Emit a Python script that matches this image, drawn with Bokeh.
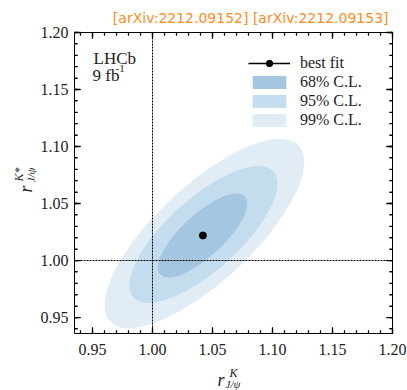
import math
from bokeh.plotting import figure
from bokeh.models import (Label, Legend, LegendItem, LinearAxis, Range1d,
                          FixedTicker, NumeralTickFormatter, CustomJSTickFormatter)
from bokeh.embed import file_html
from bokeh.resources import INLINE

# ---------------- data ----------------
cl_labels = ["99% C.L.", "95% C.L.", "68% C.L."]
cl_x = [1.0433, 1.0425, 1.0417]          # contour centres (x)
cl_y = [1.0237, 1.0228, 1.0219]          # contour centres (y)
cl_w = [0.215, 0.157, 0.096]             # major extent
cl_h = [0.084, 0.063, 0.037]             # minor extent
cl_angle = [43.0, 42.0, 42.7]            # degrees
cl_colors = ["#e1ecf5", "#c3dcee", "#a5c6e1"]
best_x = [1.042]
best_y = [1.022]
sm_x = 1.0
sm_y = 1.0
x_lim = (0.935, 1.20)
y_lim = (0.936, 1.20)
x_ticks = [0.95, 1.00, 1.05, 1.10, 1.15, 1.20]
y_ticks = [0.95, 1.00, 1.05, 1.10, 1.15, 1.20]
minor_step = 0.01

SERIF = "Liberation Serif"
W, H = 407, 390
# plot box in pixels (layout)
BOX_L, BOX_R, BOX_T, BOX_B = 74, 392, 32, 333
MAJ, MIN = 6, 3   # tick lengths in pixels
TW = 1.3          # tick thickness in pixels

# extend ranges so that the plot box sits at the wanted pixel position
xs = (x_lim[1] - x_lim[0]) / (BOX_R - BOX_L)
ys = (y_lim[1] - y_lim[0]) / (BOX_B - BOX_T)
x_range = Range1d(x_lim[0] - BOX_L * xs, x_lim[1] + (W - BOX_R) * xs)
y_range = Range1d(y_lim[0] - (H - BOX_B) * ys, y_lim[1] + BOX_T * ys)

p = figure(width=W, height=H, output_backend="svg", toolbar_location=None,
           x_range=x_range, y_range=y_range, min_border=0,
           x_axis_location=None, y_axis_location=None)
p.background_fill_color = "white"
p.border_fill_color = "white"
p.outline_line_color = None
p.xgrid.visible = False
p.ygrid.visible = False

# contours
for i in range(3):
    p.ellipse(x=[cl_x[i]], y=[cl_y[i]], width=[cl_w[i]], height=[cl_h[i]],
              angle=[cl_angle[i]], angle_units="deg",
              fill_color=cl_colors[i], line_color=None)
# proxy renderers for legend boxes (zero size)
proxies = []
for i in range(3):
    proxies.append(p.rect(x=[cl_x[i]], y=[cl_y[i]], width=0, height=0,
                          fill_color=cl_colors[i], line_color=None))

# SM reference lines, limited to the plot box
p.segment(x0=[sm_x, x_lim[0]], y0=[y_lim[0], sm_y], x1=[sm_x, x_lim[1]], y1=[y_lim[1], sm_y],
          line_color="black", line_width=1, line_dash="2 1")

# best fit
bf_line = p.line(x=best_x, y=best_y, line_color="black", line_width=1.5)
bf_dot = p.scatter(x=best_x, y=best_y, size=7, color="black")


def minor_list(lim):
    out = []
    k = 0
    v0 = math.ceil(lim[0] / minor_step - 1e-9) * minor_step
    while v0 + k * minor_step <= lim[1] + 1e-9:
        out.append(round(v0 + k * minor_step, 4))
        k += 1
    return out


x_minor = minor_list(x_lim)
y_minor = minor_list(y_lim)

# inward ticks on all four sides of the box, as short line marks (screen-sized)
vx, vy, vs = [], [], []   # vertical tick marks (bottom / top)
hx, hy, hs = [], [], []   # horizontal tick marks (left / right)
for vals, ln in ((x_ticks, MAJ), (x_minor, MIN)):
    for v in vals:
        vx += [v, v]
        vy += [y_lim[0] + 0.5 * ln * ys, y_lim[1] - 0.5 * ln * ys]
        vs += [ln, ln]
for vals, ln in ((y_ticks, MAJ), (y_minor, MIN)):
    for v in vals:
        hx += [x_lim[0] + 0.5 * ln * xs, x_lim[1] - 0.5 * ln * xs]
        hy += [v, v]
        hs += [ln, ln]
p.scatter(x=vx, y=vy, size=vs, marker="dash", angle=math.pi / 2,
          line_color="black", line_width=TW, fill_color=None)
p.scatter(x=hx, y=hy, size=hs, marker="dash", angle=0.0,
          line_color="black", line_width=TW, fill_color=None)


def make_axis(loc, bounds, ticks, minor, labels):
    ax = LinearAxis(fixed_location=loc, bounds=bounds,
                    ticker=FixedTicker(ticks=ticks, minor_ticks=minor))
    ax.axis_line_color = "black"
    ax.axis_line_width = 1
    ax.major_tick_line_color = "black"
    ax.minor_tick_line_color = "black"
    ax.major_tick_in = MAJ
    ax.major_tick_out = 0
    ax.minor_tick_in = MIN
    ax.minor_tick_out = 0
    if labels:
        ax.formatter = NumeralTickFormatter(format="0.00")
        ax.major_label_text_font = SERIF
        ax.major_label_text_font_size = "16px"
        ax.major_label_text_color = "#222222"
    else:
        ax.formatter = CustomJSTickFormatter(code="return ''")
        ax.major_label_text_font_size = "1px"
    return ax


bottom = make_axis(y_lim[0], x_lim, x_ticks, x_minor, True)
bottom.major_label_standoff = 10
left = make_axis(x_lim[0], y_lim, y_ticks, y_minor, True)
left.major_label_standoff = 6
top = make_axis(y_lim[1], x_lim, x_ticks, x_minor, False)
right = make_axis(x_lim[1], y_lim, y_ticks, y_minor, False)
p.add_layout(bottom, "below")
p.add_layout(left, "left")
p.add_layout(top, "above")
p.add_layout(right, "right")

# legend
legend = Legend(items=[
    LegendItem(label="best fit", renderers=[bf_line, bf_dot]),
    LegendItem(label=cl_labels[2], renderers=[proxies[2]]),
    LegendItem(label=cl_labels[1], renderers=[proxies[1]]),
    LegendItem(label=cl_labels[0], renderers=[proxies[0]]),
], location=(248, 261))
legend.border_line_color = None
legend.background_fill_alpha = 0
legend.padding = 0
legend.margin = 0
legend.spacing = 1
legend.label_text_font = SERIF
legend.label_text_font_size = "16px"
legend.label_text_color = "#222222"
legend.label_standoff = 10
legend.glyph_width = 42
legend.glyph_height = 16
legend.label_height = 16
p.add_layout(legend, "center")


def lab(text, x, y, size, style="normal", font=SERIF, color="#222222", angle=0.0, align="left"):
    p.add_layout(Label(x=x, y=y, x_units="screen", y_units="screen", text=text,
                       text_font=font, text_font_size=size, text_font_style=style,
                       text_color=color, angle=angle, text_align=align,
                       text_baseline="alphabetic"))


# screen positions measured from the bottom-left of the canvas
lab("LHCb", 93, H - 58, "17px")
lab("9 fb", 92, H - 75, "17px")
lab("-1", 115, H - 68, "11px")

# x axis label  r^K_{J/psi}
lab("r", 217, H - 379, "18px", style="italic")
lab("K", 229, H - 372, "12px", style="italic")
lab("J/\u03c8", 225, H - 383, "11px", style="italic")

# y axis label  r^{K*}_{J/psi} (rotated)
lab("r", 25, H - 192, "18px", style="italic", angle=math.pi / 2)
lab("K*", 18, H - 181, "12px", style="italic", angle=math.pi / 2)
lab("J/\u03c8", 30, H - 182, "11px", style="italic", angle=math.pi / 2)

# header
lab("[arXiv:2212.09152] [arXiv:2212.09153]", 388, H - 17, "14px", font="DejaVu Sans",
    color="#ff8c1a", align="right")

open("out.html", "w").write(file_html(p, INLINE))
